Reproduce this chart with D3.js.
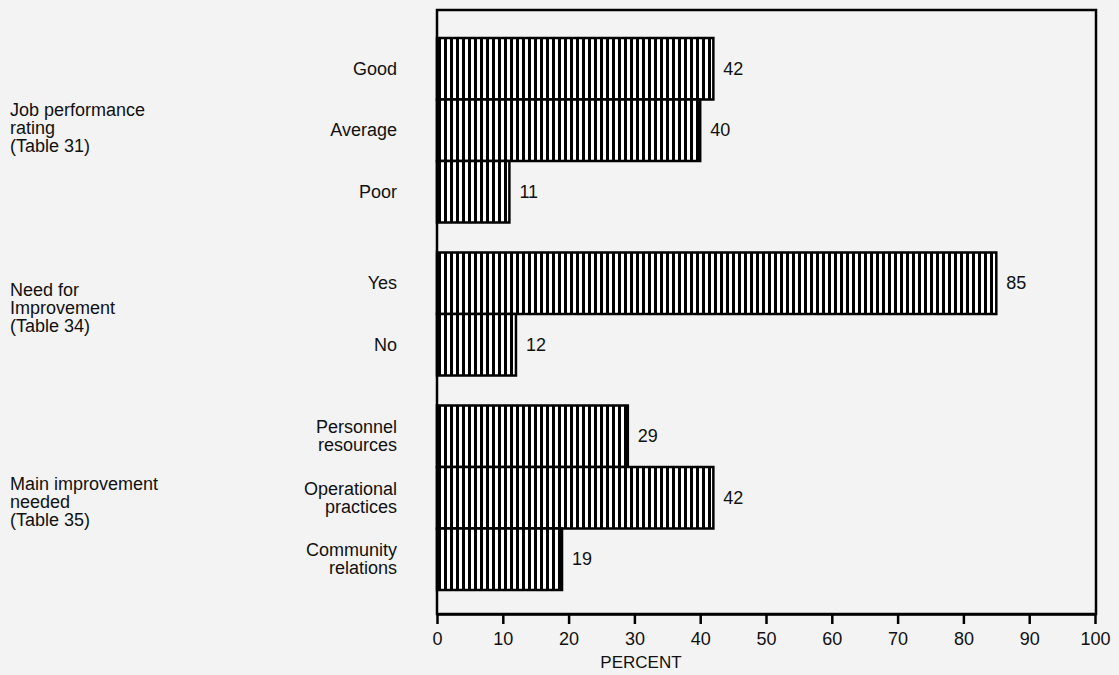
<!DOCTYPE html>
<html>
<head>
<meta charset="utf-8">
<script src="https://cdn.jsdelivr.net/npm/d3@7"></script>
<style>
    body { margin: 0; background: #f4f4f4; }
    text { font-family: "Liberation Sans", Arial, sans-serif; fill: #111; }
</style>
</head>
<body>
<script>
(function(){
    // chart data
    var groupLabels = [
        ["Job performance", "rating", "(Table 31)"],
        ["Need for", "Improvement", "(Table 34)"],
        ["Main improvement", "needed", "(Table 35)"]
    ];
    var categories = [
        ["Good"], ["Average"], ["Poor"],
        ["Yes"], ["No"],
        ["Personnel", "resources"], ["Operational", "practices"], ["Community", "relations"]
    ];
    var groupOf = [0, 0, 0, 1, 1, 2, 2, 2];
    var values = [42, 40, 11, 85, 12, 29, 42, 19];
    var tickValues = [0, 10, 20, 30, 40, 50, 60, 70, 80, 90, 100];

    var width = 1119,
        height = 675,
        plotLeft = 437,
        plotRight = 1095,
        plotTop = 10,
        plotBottom = 614,
        barsTop = 38,
        groupGap = 30,
        barHeight = 61.5;

    var xScale = d3.scaleLinear()
        .domain([0, 100])
        .range([plotLeft, plotRight]);

    var slotScale = d3.scaleLinear()
        .domain([0, categories.length])
        .range([0, categories.length * barHeight]);

    function barY(i){
        return barsTop + slotScale(i) + groupOf[i] * groupGap;
    }

    var svg = d3.select("body")
        .append("svg")
        .attr("width", width)
        .attr("height", height);

    svg.append("rect")
        .attr("width", width)
        .attr("height", height)
        .attr("fill", "#f3f3f3");

    // vertical hatching
    var pattern = svg.append("defs")
        .append("pattern")
        .attr("id", "hatch")
        .attr("patternUnits", "userSpaceOnUse")
        .attr("width", 6)
        .attr("height", 10);
    pattern.append("rect")
        .attr("width", 6)
        .attr("height", 10)
        .attr("fill", "#fff");
    pattern.append("rect")
        .attr("x", 0)
        .attr("width", 3)
        .attr("height", 10)
        .attr("fill", "#000");

    // frame
    svg.append("rect")
        .attr("x", plotLeft)
        .attr("y", plotTop)
        .attr("width", plotRight - plotLeft + 1)
        .attr("height", plotBottom - plotTop)
        .attr("fill", "none")
        .attr("stroke", "#000")
        .attr("stroke-width", 2.5);

    // bars
    svg.selectAll(".bar")
        .data(values)
        .enter()
        .append("rect")
        .attr("class", "bar")
        .attr("x", xScale(0))
        .attr("y", (d, i) => barY(i))
        .attr("width", d => xScale(d) - xScale(0))
        .attr("height", barHeight)
        .attr("fill", "url(#hatch)")
        .attr("stroke", "#000")
        .attr("stroke-width", 2.5);

    // value labels
    svg.selectAll(".numbers")
        .data(values)
        .enter()
        .append("text")
        .attr("class", "numbers")
        .attr("x", d => xScale(d) + 10)
        .attr("y", (d, i) => barY(i) + barHeight / 2 + 6)
        .attr("font-size", 18)
        .text(d => d);

    // category labels
    var cats = svg.selectAll(".cat")
        .data(categories)
        .enter()
        .append("text")
        .attr("class", "cat")
        .attr("text-anchor", "end")
        .attr("font-size", 18)
        .attr("y", (d, i) => barY(i) + barHeight / 2 + 6 - (d.length - 1) * 9);
    cats.selectAll("tspan")
        .data(d => d)
        .enter()
        .append("tspan")
        .attr("x", 397)
        .attr("dy", (d, j) => j === 0 ? 0 : 18)
        .text(d => d);

    // group labels
    var groupShift = [0, -4, 6];
    var groups = svg.selectAll(".group")
        .data(groupLabels)
        .enter()
        .append("text")
        .attr("class", "group")
        .attr("font-size", 18)
        .attr("y", function(d, g){
            var idx = groupOf.map((v, i) => v === g ? i : -1).filter(i => i >= 0);
            var top = barY(idx[0]),
                bottom = barY(idx[idx.length - 1]) + barHeight;
            return (top + bottom) / 2 - 14 + groupShift[g];
        });
    groups.selectAll("tspan")
        .data(d => d)
        .enter()
        .append("tspan")
        .attr("x", 10)
        .attr("dy", (d, j) => j === 0 ? 0 : 18)
        .text(d => d);

    // x axis
    var xAxis = d3.axisBottom(xScale)
        .tickValues(tickValues)
        .tickSize(10)
        .tickSizeOuter(0)
        .tickPadding(8);

    var axis = svg.append("g")
        .attr("transform", "translate(0," + plotBottom + ")")
        .call(xAxis);
    axis.select(".domain")
        .attr("stroke", "#000")
        .attr("stroke-width", 2.5);
    axis.selectAll(".tick line")
        .attr("stroke", "#000")
        .attr("stroke-width", 2.5);
    axis.selectAll(".tick text")
        .attr("font-size", 18)
        .attr("font-family", "Liberation Sans, Arial, sans-serif")
        .attr("fill", "#111");

    svg.append("text")
        .attr("x", xScale(31))
        .attr("y", 668)
        .attr("text-anchor", "middle")
        .attr("font-size", 17)
        .text("PERCENT");
})();
</script>
</body>
</html>
